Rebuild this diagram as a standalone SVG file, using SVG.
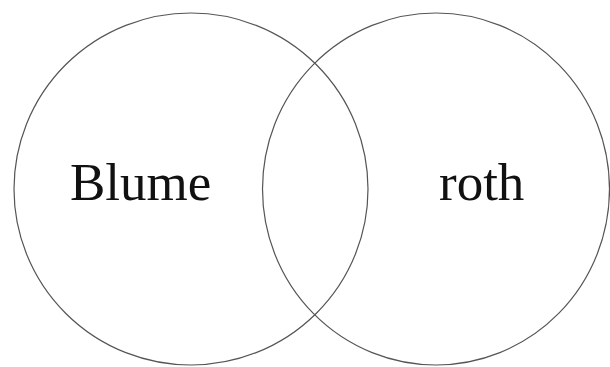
<svg xmlns="http://www.w3.org/2000/svg" width="610" height="367" viewBox="0 0 610 367">
<style>
.set{fill:none;stroke:#555;stroke-width:1.2}
.lbl{font-family:"Liberation Serif","Times New Roman",serif;font-size:53px;fill:#111}
</style>
<rect width="610" height="367" fill="#fff"/>
<g id="blume">
<ellipse class="set" cx="191" cy="189" rx="177" ry="176"/>
<text class="lbl" x="70" y="200">Blume</text>
</g>
<g id="roth">
<ellipse class="set" cx="436" cy="189" rx="173.5" ry="176"/>
<text class="lbl" x="439" y="200">roth</text>
</g>
<g id="connectors"/>
</svg>
